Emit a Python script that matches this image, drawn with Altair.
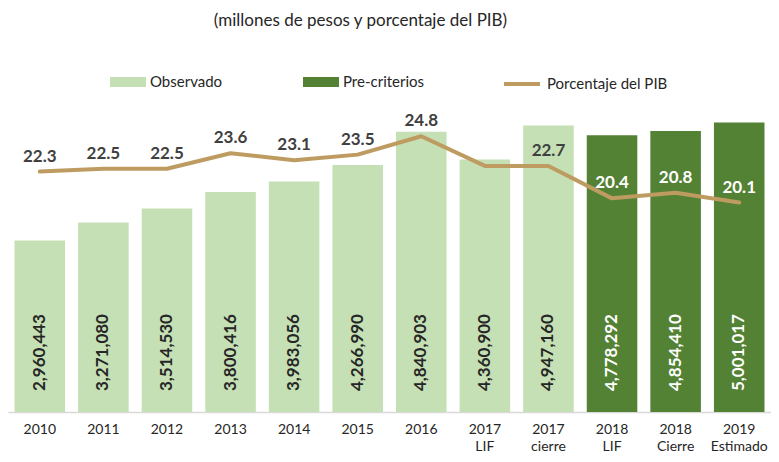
import altair as alt
import pandas as pd

categorias = ["2010", "2011", "2012", "2013", "2014", "2015", "2016",
              "2017 LIF", "2017 cierre", "2018 LIF", "2018 Cierre", "2019 Estimado"]
ingresos = [2960443, 3271080, 3514530, 3800416, 3983056, 4266990, 4840903,
            4360900, 4947160, 4778292, 4854410, 5001017]
tipo = ["Observado", "Observado", "Observado", "Observado", "Observado", "Observado",
        "Observado", "Observado", "Observado", "Pre-criterios", "Pre-criterios", "Pre-criterios"]
pct_pib = [22.3, 22.5, 22.5, 23.6, 23.1, 23.5, 24.8, 22.7, 22.7, 20.4, 20.8, 20.1]
pct_label = ["22.3", "22.5", "22.5", "23.6", "23.1", "23.5", "24.8", "", "22.7", "20.4", "20.8", "20.1"]

df = pd.DataFrame({
    "cat": categorias,
    "ingresos": ingresos,
    "ing_label": [f"{v:,}" for v in ingresos],
    "tipo": tipo,
    "pib": pct_pib,
    "pib_label": pct_label,
})

LIGHT = "#C5E0B4"
DARK = "#548235"
TAN = "#BE9C61"
FONT = "Lato"

base = alt.Chart(df).encode(
    x=alt.X("cat:N", sort=categorias, title=None,
            scale=alt.Scale(paddingInner=0.205, paddingOuter=0.1025),
            axis=alt.Axis(labelAngle=0, ticks=False, domainColor="#D9D9D9", domainWidth=1.5,
                          labelFont=FONT, labelFontSize=14, labelColor="#262626",
                          labelPadding=10, labelLineHeight=17,
                          labelExpr="split(datum.label, ' ')"))
)

ymain = alt.Scale(domain=[0, 5510000], nice=False, zero=False)
ysec = alt.Scale(domain=[5.25, 27.87], nice=False, zero=False)

bars = base.mark_bar().encode(
    y=alt.Y("ingresos:Q", scale=ymain, axis=None),
    fill=alt.Fill("tipo:N", scale=alt.Scale(domain=["Observado", "Pre-criterios"], range=[LIGHT, DARK]),
                  legend=alt.Legend(orient="none", legendX=102, legendY=-29, direction="horizontal",
                                    title=None, symbolType="M-1,-0.28H1V0.28H-1Z", symbolSize=1296,
                                    symbolStrokeWidth=0, labelFont=FONT, labelFontSize=15,
                                    labelColor="#262626", labelOffset=4, columnPadding=80, padding=0)),
)

bar_text = base.mark_text(angle=270, align="left", baseline="middle", dx=21,
                          font=FONT, fontSize=17, fontWeight="bold").encode(
    y=alt.datum(0),
    text="ing_label:N",
    color=alt.condition("datum.tipo == 'Observado'", alt.value("#262626"), alt.value("#FFFFFF")),
)

line = base.mark_line(strokeWidth=4, strokeJoin="round", strokeCap="round").transform_calculate(
    serie="'Porcentaje del PIB'"
).encode(
    y=alt.Y("pib:Q", scale=ysec, axis=None),
    stroke=alt.Stroke("serie:N", scale=alt.Scale(domain=["Porcentaje del PIB"], range=[TAN]),
                      legend=alt.Legend(orient="none", legendX=494, legendY=-29, direction="horizontal",
                                        title=None, symbolType="stroke", symbolSize=1296,
                                        symbolStrokeWidth=4, labelFont=FONT, labelFontSize=15,
                                        labelColor="#262626", labelOffset=5, padding=0)),
)

line_text = base.mark_text(dy=-15, font=FONT, fontSize=17, fontWeight="bold").encode(
    y=alt.Y("pib:Q", scale=ysec, axis=None),
    text="pib_label:N",
    color=alt.condition("datum.tipo == 'Observado'", alt.value("#404040"), alt.value("#FFFFFF")),
)

chart = alt.layer(
    alt.layer(bars, bar_text),
    alt.layer(line, line_text),
).resolve_scale(y="independent", color="independent").properties(
    width=763, height=319,
    title=alt.TitleParams("(millones de pesos y porcentaje del PIB)", font=FONT, fontSize=17,
                          fontWeight="normal", color="#262626", anchor="middle", dx=-29, offset=34),
    autosize=alt.AutoSizeParams(type="none"),
    padding={"left": 0, "top": 85, "right": 0, "bottom": 42},
).configure_view(stroke=None)

chart.save("out.html", embed_options={"renderer": "svg", "actions": False})
